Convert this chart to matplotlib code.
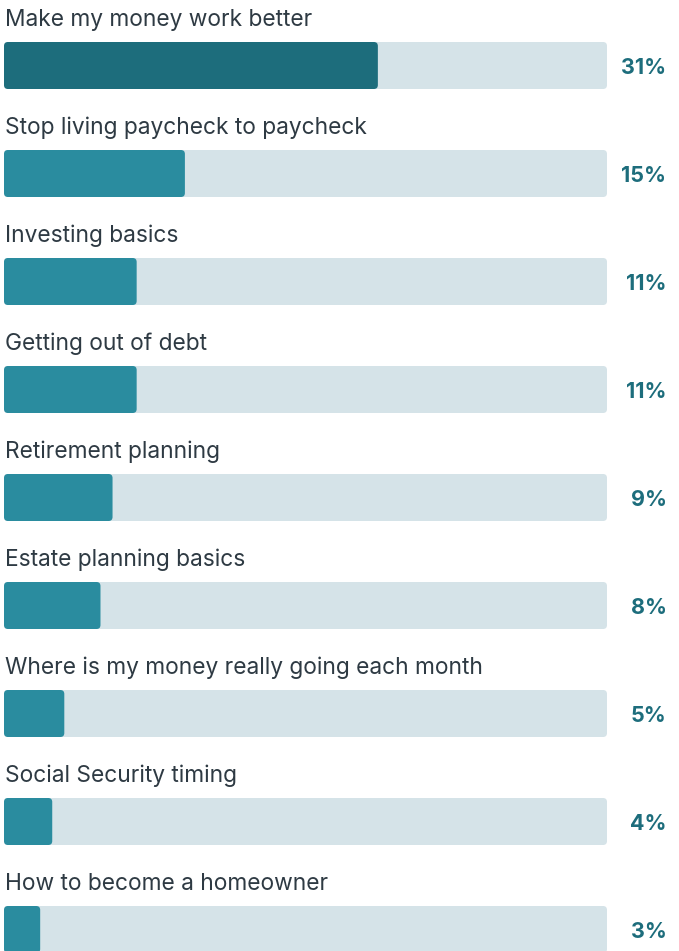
import matplotlib
matplotlib.use("Agg")
import matplotlib.pyplot as plt
from matplotlib.patches import FancyBboxPatch

plt.rcParams['font.family'] = ['Inter', 'DejaVu Sans']

topics = [
    "Make my money work better",
    "Stop living paycheck to paycheck",
    "Investing basics",
    "Getting out of debt",
    "Retirement planning",
    "Estate planning basics",
    "Where is my money really going each month",
    "Social Security timing",
    "How to become a homeowner",
]
shares = [31, 15, 11, 11, 9, 8, 5, 4, 3]
scale_max = 50

W, H = 679, 951
fig = plt.figure(figsize=(W / 100, H / 100), dpi=100)
ax = fig.add_axes([0, 0, 1, 1])

# x in percent units (track spans 0..scale_max), y in pixel rows
px_per_unit = 603 / scale_max
x0 = -4 / px_per_unit
ax.set_xlim(x0, x0 + W / px_per_unit)
ax.set_ylim(H, 0)
ax.axis('off')

row_h = 108
bar_top = 42
bar_h = 47
radius_px = 4

track_col = '#d5e3e8'
lead_col = '#1d6d7c'
fill_col = '#2a8c9f'
text_col = '#2e3a43'
pct_col = '#1d6d7c'

def rounded(x, y, w, h, color):
    r = radius_px / px_per_unit
    p = FancyBboxPatch((x, y), w, h,
                       boxstyle=f"round,pad=0,rounding_size={r}",
                       mutation_aspect=px_per_unit,
                       facecolor=color, edgecolor='none')
    ax.add_patch(p)

for i, (name, val) in enumerate(zip(topics, shares)):
    top = bar_top + i * row_h
    rounded(0, top, scale_max, bar_h, track_col)
    rounded(0, top, val, bar_h, lead_col if i == 0 else fill_col)
    t = ax.text(x0 + 5 / px_per_unit, top - 15.7, name, fontsize=16.4,
                color=text_col, ha='left', va='baseline')
    ax.text(x0 + 666.5 / px_per_unit, top + 32.3, f"{val}%", fontsize=15.5,
            fontweight='bold', color=pct_col, ha='right', va='baseline')

fig.savefig('out.png', dpi=100, facecolor='white')
